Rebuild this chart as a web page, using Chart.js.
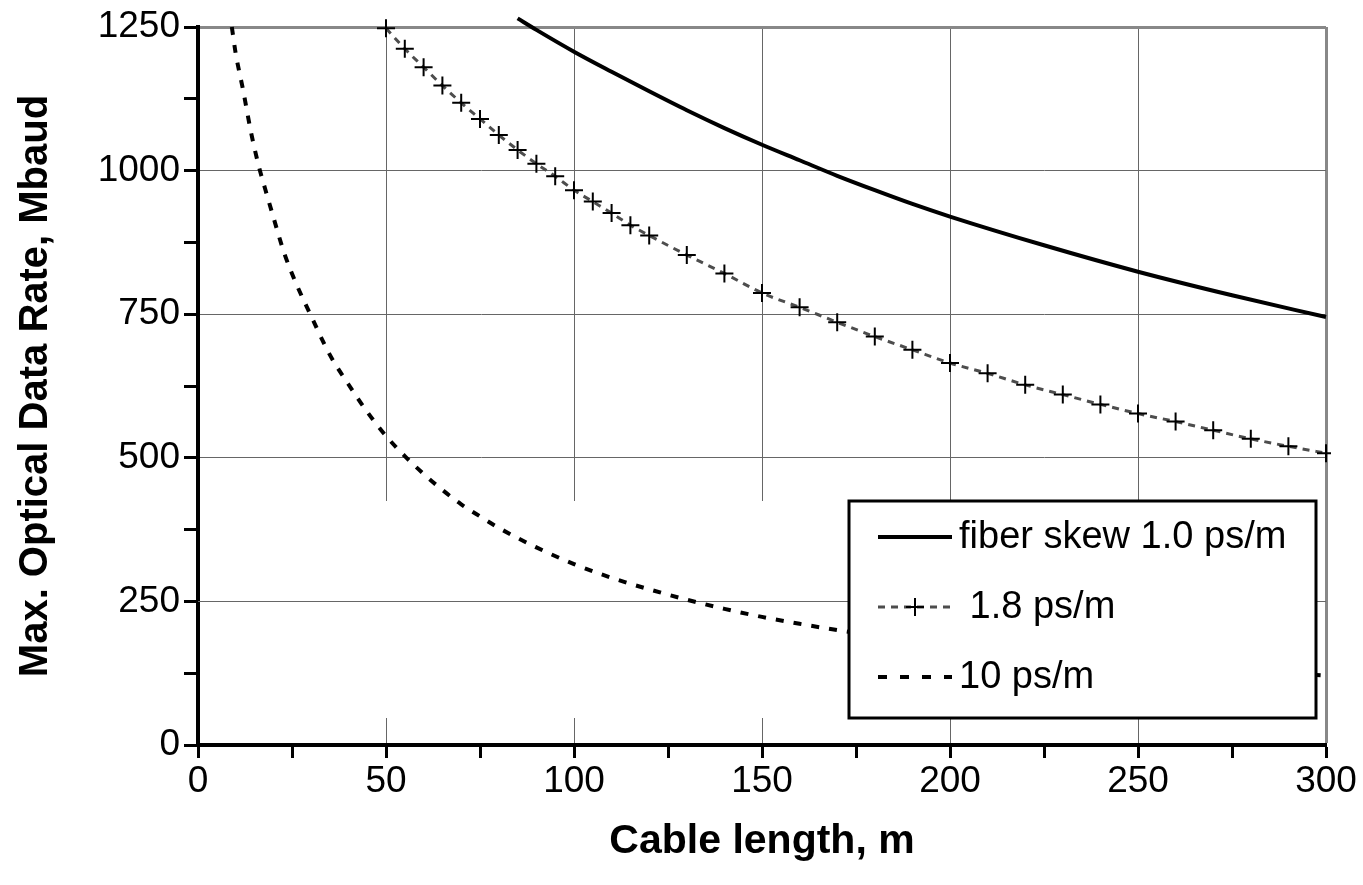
<!DOCTYPE html>
<html>
<head>
<meta charset="utf-8">
<script src="https://cdn.jsdelivr.net/npm/chart.js@4/dist/chart.umd.min.js"></script>
<style>
  body { margin: 0; background: #fff; }
  canvas { display: block; }
</style>
</head>
<body>
<canvas id="myChart" width="1363" height="885"></canvas>
<script>
// cable length (m) and max data rate (Mbaud)
const seriesNames = ['fiber skew 1.0 ps/m', ' 1.8 ps/m', '10 ps/m'];

const len1 = [85, 90, 100, 110, 120, 130, 140, 150, 160, 170, 180, 190, 200, 225, 250, 275, 300];
const rate1 = [1265, 1245, 1207, 1172, 1138, 1105, 1074, 1045, 1018, 991, 966, 942, 920, 870, 824, 783, 745];

const len18 = [50, 55, 60, 65, 70, 75, 80, 85, 90, 95, 100, 105, 110, 115, 120,
    130, 140, 150, 160, 170, 180, 190, 200, 210, 220, 230, 240, 250, 260, 270, 280, 290, 300];
const rate18 = [1248, 1212, 1180, 1148, 1118, 1090, 1062, 1036, 1012, 990, 966, 946, 926, 905, 887,
    853, 821, 787, 762, 736, 711, 688, 665, 647, 627, 610, 593, 577, 563, 548, 533, 520, 508];

const len10 = [9, 10, 12, 14, 16, 18, 20, 23, 26, 30, 35, 40, 45, 50, 55, 60, 65, 70, 75, 80,
    90, 100, 110, 120, 130, 140, 150, 160, 170, 185, 200, 225, 250, 275, 300];
const rate10 = [1250, 1205, 1140, 1070, 1012, 965, 920, 855, 805, 748, 680, 628, 580, 538, 503, 472, 444, 419, 398, 378,
    344, 315, 291, 271, 253, 237, 223, 211, 200, 186, 174, 157, 143, 131, 121];

const xTicks = [0, 50, 100, 150, 200, 250, 300];
const yTicks = [0, 250, 500, 750, 1000, 1250];

const toPoints = (xs, ys) => xs.map((x, i) => ({ x: x, y: ys[i] }));

const FONT = "'Liberation Sans', Arial, sans-serif";

// excel-ish legend box inside the plot, lower right
const boxLegend = {
    id: 'boxLegend',
    beforeDatasetsDraw(chart) {
        // vertical gridlines are hidden across the legend's band in the original
        const { ctx, chartArea: a, scales } = chart;
        const top = a.bottom - 244, h = 217;
        ctx.save();
        ctx.fillStyle = '#fff';
        ctx.fillRect(a.left + 3, top, a.right - a.left - 5, h);
        const y = Math.round(scales.y.getPixelForValue(250)) + 0.5;
        ctx.strokeStyle = '#666';
        ctx.lineWidth = 1;
        ctx.beginPath();
        ctx.moveTo(a.left, y);
        ctx.lineTo(a.right, y);
        ctx.stroke();
        ctx.restore();
    },
    afterDatasetsDraw(chart) {
        const { ctx, chartArea: a } = chart;
        const x0 = a.right - 477, y0 = a.bottom - 244, w = 467, h = 217;
        const sampleDash = [[], [7, 6], [9, 13]];
        ctx.save();
        ctx.fillStyle = '#fff';
        ctx.fillRect(x0, y0, w, h);
        ctx.strokeStyle = '#000';
        ctx.lineWidth = 3;
        ctx.strokeRect(x0, y0, w, h);

        ctx.font = '38px ' + FONT;
        ctx.textBaseline = 'middle';
        ctx.fillStyle = '#000';
        chart.data.datasets.forEach((ds, i) => {
            const y = y0 + 36 + i * 70;
            ctx.save();
            ctx.strokeStyle = ds.borderColor;
            ctx.lineWidth = ds.borderWidth;
            ctx.setLineDash(sampleDash[i]);
            ctx.beginPath();
            ctx.moveTo(x0 + 29, y);
            ctx.lineTo(x0 + 103, y);
            ctx.stroke();
            ctx.restore();
            if (ds.pointStyle === 'cross') {
                ctx.save();
                ctx.strokeStyle = '#000';
                ctx.lineWidth = 2;
                ctx.beginPath();
                ctx.moveTo(x0 + 57, y);
                ctx.lineTo(x0 + 75, y);
                ctx.moveTo(x0 + 66, y - 9);
                ctx.lineTo(x0 + 66, y + 9);
                ctx.stroke();
                ctx.restore();
            }
            ctx.fillText(ds.label, x0 + 110, y + 1);
        });
        ctx.restore();
    }
};

new Chart(document.getElementById('myChart'), {
    type: 'line',
    data: {
        datasets: [
            {
                label: seriesNames[0],
                data: toPoints(len1, rate1),
                borderColor: '#000',
                borderWidth: 4,
                pointRadius: 0,
                cubicInterpolationMode: 'monotone',
                clip: { left: 5, top: 12, right: 5, bottom: 5 }
            },
            {
                label: seriesNames[1],
                data: toPoints(len18, rate18),
                borderColor: '#4d4d4d',
                borderWidth: 3,
                borderDash: [7, 6],
                pointStyle: 'cross',
                pointRadius: 9,
                pointBorderWidth: 2,
                pointBorderColor: '#000',
                cubicInterpolationMode: 'monotone',
                clip: { left: 5, top: 12, right: 5, bottom: 5 }
            },
            {
                label: seriesNames[2],
                data: toPoints(len10, rate10),
                borderColor: '#000',
                borderWidth: 4,
                borderDash: [8, 10],
                pointRadius: 0,
                cubicInterpolationMode: 'monotone',
                clip: { left: 5, top: 12, right: 5, bottom: 5 }
            }
        ]
    },
    options: {
        responsive: false,
        devicePixelRatio: 1,
        animation: false,
        layout: {
            padding: { left: 0, right: 37, top: 27, bottom: 0 }
        },
        plugins: {
            legend: { display: false },
            tooltip: { enabled: false }
        },
        scales: {
            x: {
                type: 'linear',
                min: 0,
                max: 300,
                afterFit: (s) => { s.height = 140; },
                ticks: {
                    stepSize: 25,
                    autoSkip: false,
                    maxRotation: 0,
                    padding: 2,
                    color: '#000',
                    font: { family: FONT, size: 37 },
                    callback: (v) => xTicks.includes(v) ? v : ''
                },
                grid: {
                    color: (c) => !xTicks.includes(c.tick.value) ? 'transparent' : (c.tick.value === 300 ? '#888' : '#666'),
                    lineWidth: (c) => c.tick.value === 300 ? 3 : 1,
                    tickColor: '#000',
                    tickWidth: 3,
                    tickLength: 13
                },
                border: { color: '#000', width: 4 },
                title: {
                    display: true,
                    text: 'Cable length, m',
                    color: '#000',
                    font: { family: FONT, size: 41, weight: 'bold' },
                    padding: { top: 0, bottom: 19 }
                }
            },
            y: {
                min: 0,
                max: 1250,
                afterFit: (s) => { s.width = 198; },
                ticks: {
                    stepSize: 125,
                    autoSkip: false,
                    padding: 4,
                    color: '#000',
                    font: { family: FONT, size: 37 },
                    callback: (v) => yTicks.includes(v) ? v : ''
                },
                grid: {
                    color: (c) => !yTicks.includes(c.tick.value) ? 'transparent' : (c.tick.value === 1250 ? '#888' : '#666'),
                    lineWidth: (c) => c.tick.value === 1250 ? 3 : 1,
                    tickColor: '#000',
                    tickWidth: 3,
                    tickLength: 14
                },
                border: { color: '#000', width: 4 },
                title: {
                    display: true,
                    text: 'Max. Optical Data Rate, Mbaud',
                    color: '#000',
                    font: { family: FONT, size: 40, weight: 'bold' },
                    padding: { top: 12, bottom: 0 }
                }
            }
        }
    },
    plugins: [boxLegend]
});
</script>
</body>
</html>
